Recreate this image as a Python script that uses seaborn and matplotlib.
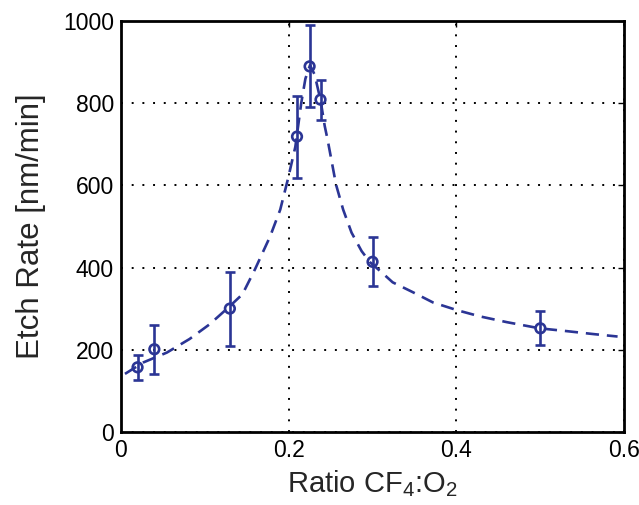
import matplotlib
matplotlib.use("Agg")
import matplotlib.pyplot as plt
import seaborn as sns
import pandas as pd

# measured points
ratio = [0.02, 0.04, 0.13, 0.21, 0.225, 0.238, 0.30, 0.50]
etch = [157, 201, 300, 719, 890, 809, 414, 252]
etch_err = [31, 60, 90, 100, 100, 49, 60, 41]

# fitted curve
fit_x = [0.005, 0.027, 0.055, 0.082, 0.106, 0.130, 0.145, 0.160, 0.178, 0.190,
         0.199, 0.208, 0.215, 0.220, 0.2255, 0.231, 0.238, 0.243, 0.2465, 0.2565,
         0.265, 0.275, 0.287, 0.297, 0.311, 0.324, 0.348, 0.372, 0.401, 0.428,
         0.460, 0.499, 0.532, 0.563, 0.592]
fit_y = [141, 169, 193, 226, 262, 306, 335, 396, 476, 541,
         614, 694, 800, 860, 893, 870, 808, 745, 711, 602,
         541, 485, 440, 413, 388, 364, 340, 315, 296, 281,
         267, 252, 245, 238, 232]

x_ticks = [0, 0.2, 0.4, 0.6]
x_ticklabels = ["0", "0.2", "0.4", "0.6"]
y_ticks = [0, 200, 400, 600, 800, 1000]

sns.set_style("white")
plt.rcParams['font.family'] = ['Liberation Sans', 'DejaVu Sans']
plt.rcParams['mathtext.fontset'] = 'custom'
plt.rcParams['mathtext.rm'] = 'Liberation Sans'

color = "#2b3595"

fig = plt.figure(figsize=(6.39, 5.05), dpi=100)
ax = fig.add_axes([0.189, 0.145, 0.788, 0.813])

fit_df = pd.DataFrame({"x": fit_x, "y": fit_y})
sns.lineplot(data=fit_df, x="x", y="y", ax=ax, color=color, lw=1.9,
             sort=False, estimator=None)
ax.lines[-1].set_dashes((5, 3))

ax.errorbar(ratio, etch, yerr=etch_err, fmt="none", ecolor=color,
            elinewidth=1.9, capsize=3.4, capthick=1.9, zorder=4)
pts = pd.DataFrame({"x": ratio, "y": etch})
sns.scatterplot(data=pts, x="x", y="y", ax=ax, s=48, facecolor="none",
                edgecolor=color, linewidth=1.9, zorder=5)

ax.set_xlim(0, 0.6)
ax.set_ylim(0, 1000)
ax.set_xticks(x_ticks)
ax.set_xticklabels(x_ticklabels)
ax.set_yticks(y_ticks)

ax.grid(True, color="black", linestyle=(0, (1, 4.5)), linewidth=1.4)
ax.set_axisbelow(True)

for s in ax.spines.values():
    s.set_color("black")
    s.set_linewidth(2)
    s.set_visible(True)

ax.tick_params(direction="in", length=4, width=1, top=True, right=True,
               labelsize=16.5, colors="black", pad=5)

ax.set_xlabel(r"Ratio CF$_4$:O$_2$", fontsize=21, labelpad=5)
ax.set_ylabel("Etch Rate [nm/min]", fontsize=22.5, labelpad=12)

fig.savefig("out.png", dpi=100)
